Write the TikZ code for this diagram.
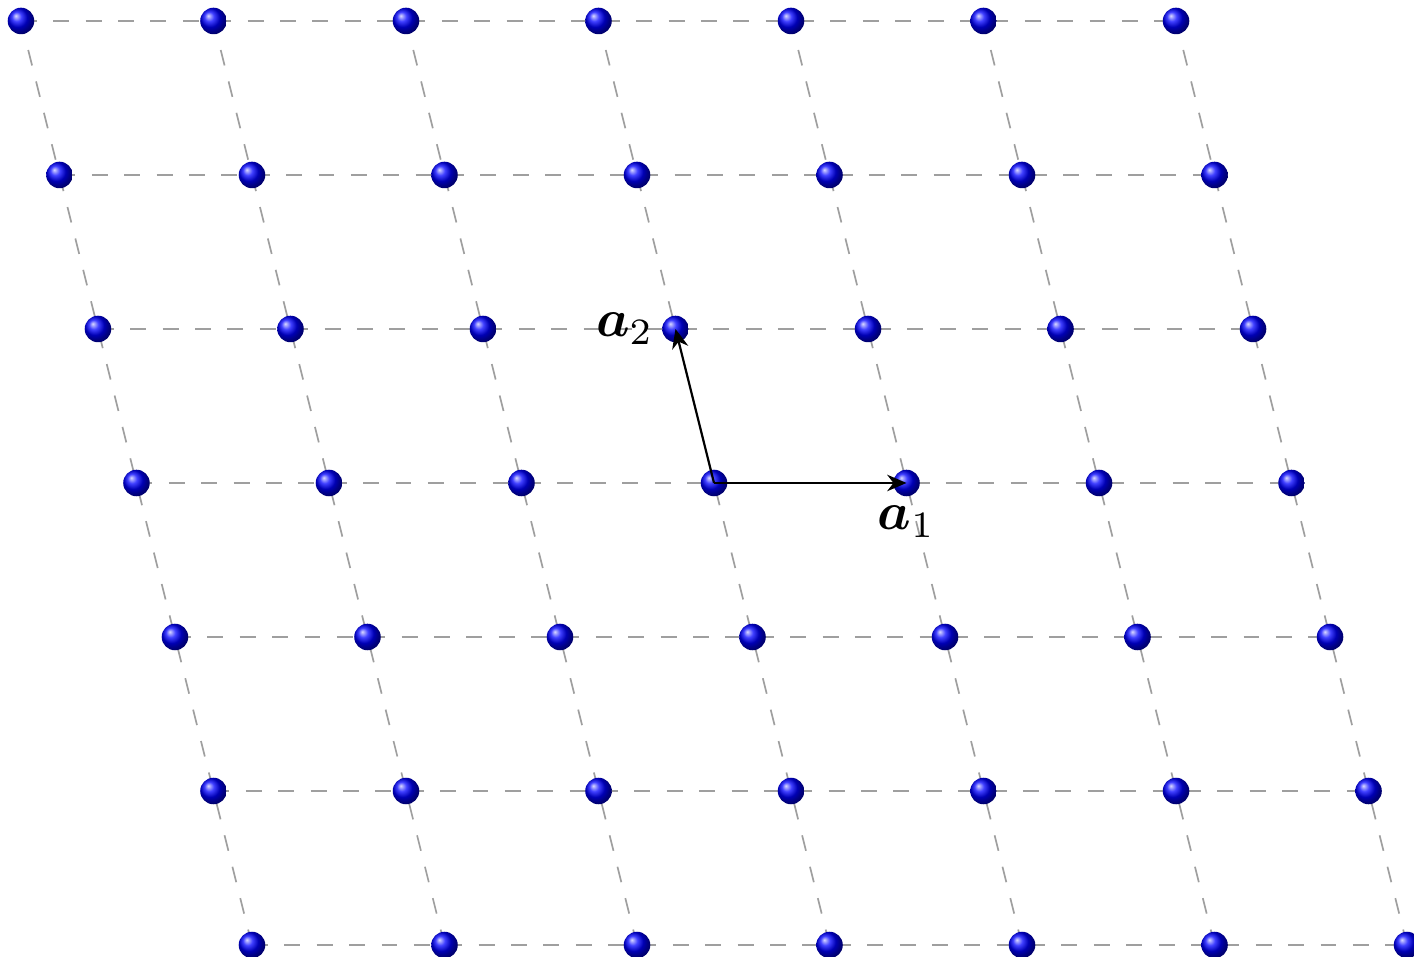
\documentclass[tikz,border=0pt]{standalone}
\usepackage{amsmath}
\usetikzlibrary{arrows.meta}
\begin{document}
\begin{tikzpicture}[x=1.4cm,y=1.4cm,
  grid/.style={gray!75,dash pattern=on 3.3pt off 3.4pt,line width=0.35pt},
  atom/.style={circle,inner sep=0pt,minimum size=0.193cm,ball color=blue},
  vec/.style={-{Stealth[length=4pt,width=3.4pt]},line width=0.45pt},
  lab/.style={scale=1.1}]
\useasboundingbox (-3.709,-2.462) rectangle (3.636,2.509);
% dashed lattice lines
\foreach \j in {-3,...,3}{
  \coordinate (h\j a) at ({-3-0.2*\j},{0.8*\j});
  \coordinate (h\j b) at ({3-0.2*\j},{0.8*\j});
  \draw[grid] (h\j a) -- (h\j b);
}
\foreach \i in {-3,...,3}{
  \coordinate (v\i a) at ({\i+0.6},-2.4);
  \coordinate (v\i b) at ({\i-0.6},2.4);
  \draw[grid] (v\i a) -- (v\i b);
}
% atoms
\foreach \i in {-3,...,3}{
  \foreach \j in {-3,...,3}{
    \node[atom] (p\i\j) at ({\i-0.2*\j},{0.8*\j}) {};
  }
}
% basis vectors
\coordinate (o) at (0,0);
\coordinate (e1) at (1,0);
\coordinate (e2) at (-0.2,0.8);
\draw[vec] (o) -- (e1);
\draw[vec] (o) -- (e2);
\node[lab,below=0.8pt] (l1) at (e1) {$\boldsymbol{a}_1$};
\node[lab,left=0.6pt] (l2) at (e2) {$\boldsymbol{a}_2$};
\end{tikzpicture}
\end{document}
